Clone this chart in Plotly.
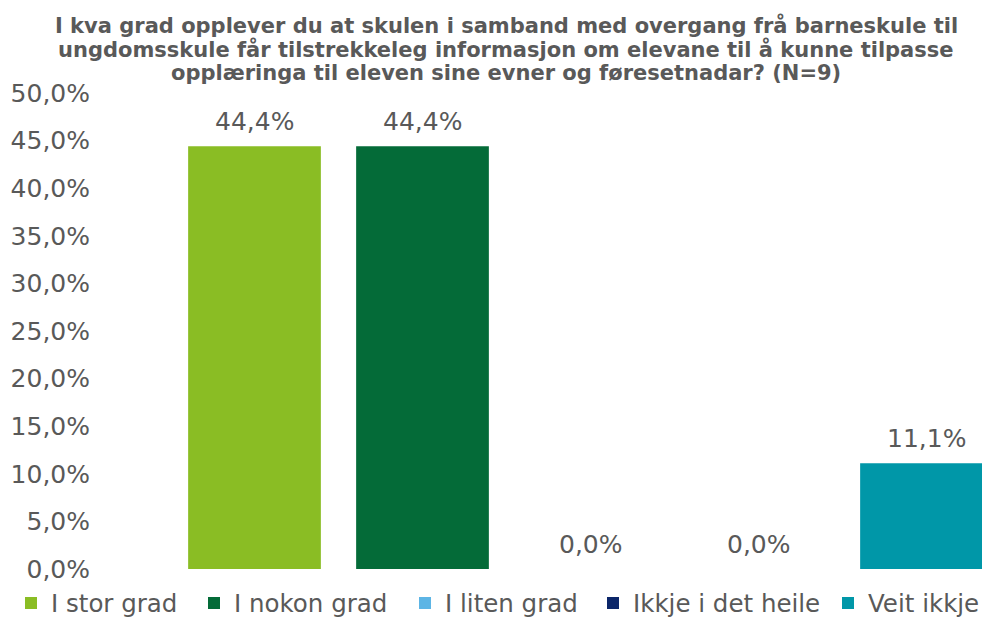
import plotly.graph_objects as go

categories = ["I stor grad", "I nokon grad", "I liten grad", "Ikkje i det heile", "Veit ikkje"]
values = [0.444, 0.444, 0.0, 0.0, 0.111]
labels = ["44,4%", "44,4%", "0,0%", "0,0%", "11,1%"]
colors = ["#8ABD24", "#046B38", "#5DB5E5", "#0B2669", "#0097A8"]
yticks = [0.0, 0.05, 0.10, 0.15, 0.20, 0.25, 0.30, 0.35, 0.40, 0.45, 0.50]

title_lines = [
    "I kva grad opplever du at skulen i samband med overgang frå barneskule til",
    "ungdomsskule får tilstrekkeleg informasjon om elevane til å kunne tilpasse",
    "opplæringa til eleven sine evner og føresetnadar? (N=9)",
]

GRAY = "#595959"
FONT = "DejaVu Sans"
OFF = 8  # page body margin in the browser
W, H = 990 - OFF, 619 - OFF
ML, MR, MT, MB = 83, 0, 93 - OFF, 619 - 569
PW, PH = W - ML - MR, H - MT - MB
BAR0 = 254.5 - OFF  # pixel centre of the first category
STEP = 168          # pixels per category

# legend text start positions (screen pixels) for each entry
legend_text_x = [49, 232, 443, 631, 866]

fig = go.Figure()
for i, (cat, v, c) in enumerate(zip(categories, values, colors)):
    lg = "legend" if i == 0 else f"legend{i+1}"
    fig.add_trace(go.Bar(x=[i], y=[v], name=cat, marker_color=c, width=0.79,
                         marker_line_width=0, legend=lg))
for i, (v, t) in enumerate(zip(values, labels)):
    fig.add_annotation(x=i, y=v, text=t, showarrow=False, yshift=25,
                       yanchor="middle", font=dict(family=FONT, size=25, color=GRAY))

# title, one annotation per line
title_centers = [25.5 - OFF, 49.5 - OFF, 73 - OFF]
for line, yc in zip(title_lines, title_centers):
    fig.add_annotation(text=line, xref="paper", yref="paper",
                       x=(506 - OFF - ML) / PW, y=1 + (MT - yc) / PH,
                       xanchor="center", yanchor="middle", showarrow=False,
                       font=dict(family=FONT, size=21, color=GRAY, weight="bold"))

legends = {}
for i, tx in enumerate(legend_text_x):
    key = "legend" if i == 0 else f"legend{i+1}"
    legends[key] = dict(orientation="h", xref="container", yref="container",
                        x=(tx - 46) / W, xanchor="left",
                        y=(H - (603 - OFF)) / H, yanchor="middle",
                        font=dict(family=FONT, size=24.5, color=GRAY),
                        itemwidth=30, bgcolor="rgba(0,0,0,0)")

r0 = -(BAR0 - ML) / STEP
fig.update_layout(
    width=W, height=H,
    margin=dict(l=ML, r=MR, t=MT, b=MB, autoexpand=False),
    paper_bgcolor="white", plot_bgcolor="white",
    separators=", ",
    barmode="overlay",
    xaxis=dict(range=[r0, r0 + PW / STEP],
               showticklabels=False, showgrid=False,
               zeroline=False, showline=False, ticks=""),
    yaxis=dict(range=[0, 0.5], tickvals=yticks, tickformat=".1%", showgrid=False,
               zeroline=False, showline=False, ticks="",
               tickfont=dict(family=FONT, size=25, color=GRAY)),
    showlegend=True,
    **legends,
)

fig.write_html("out.html")
